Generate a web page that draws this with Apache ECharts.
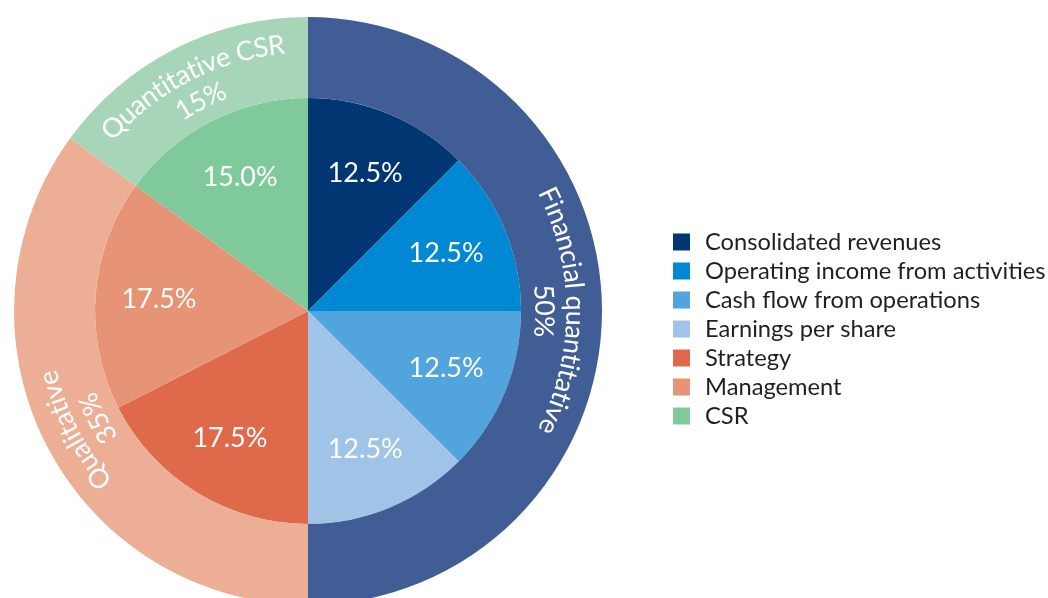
<!DOCTYPE html>
<html>
<head>
<meta charset="utf-8">
<script src="https://cdn.jsdelivr.net/npm/echarts@6/dist/echarts.min.js"></script>
<style>
    html, body {margin: 0; padding: 0; background: #fff;}
    #chart {width: 1048px; height: 598px;}
</style>
</head>
<body>
<div id="chart"></div>
<script>
// inner pie: the weighting of each criterion
const innerNames = ['Consolidated revenues', 'Operating income from activities', 'Cash flow from operations',
    'Earnings per share', 'Strategy', 'Management', 'CSR'];
const innerValues = [12.5, 12.5, 12.5, 12.5, 17.5, 17.5, 15];
const innerColors = ['#003671', '#0089d2', '#52a4dc', '#a0c4e8', '#de6a4b', '#e69475', '#80c99b'];

// outer ring: the three groups
const outerNames = ['Financial quantitative', 'Qualitative', 'Quantitative CSR'];
const outerValues = [50, 35, 15];
const outerColors = ['#405d96', '#ecaf95', '#a7d5b8'];

const FONT = 'Lato, "Noto Sans", sans-serif';
const CX = 308, CY = 311, R_IN = 213, R_OUT = 294;
const RING_FONT = 27;
const LINE_R = [267, 236]; // centre radius of the two label lines in the ring

let total = outerValues.reduce((x, y) => x + y, 0);
let acc = 0;
let outerMids = outerValues.map(v => {
    let m = (acc + v / 2) / total * 100;
    acc += v;
    return m;
});

let measureCtx = document.createElement('canvas').getContext('2d');
measureCtx.font = RING_FONT + 'px ' + FONT;

// one text element per character, bent round the ring (angle axis runs 0-100)
let renderRingLabel = (params, api) => {
    let i = params.dataIndex;
    let lines = [outerNames[i], outerValues[i] + '%'];
    let children = [];
    lines.forEach((line, li) => {
        let r = LINE_R[li];
        let widths = line.split('').map(ch => measureCtx.measureText(ch).width);
        let full = measureCtx.measureText(line).width;
        let scale = full / widths.reduce((x, y) => x + y, 0);
        let toPct = w => w * scale / r / (2 * Math.PI) * 100;
        let pos = outerMids[i] - toPct(full / scale) / 2;
        line.split('').forEach((ch, k) => {
            let a = pos + toPct(widths[k]) / 2;
            pos += toPct(widths[k]);
            let pt = api.coord([r, a]);
            children.push({
                type: 'text',
                x: pt[0],
                y: pt[1],
                rotation: -a / 100 * 2 * Math.PI,
                style: {
                    text: ch,
                    fill: '#fff',
                    fontFamily: FONT,
                    fontSize: RING_FONT,
                    align: 'center',
                    verticalAlign: 'middle'
                }
            });
        });
    });
    return {type: 'group', children: children};
};

let innerData = innerNames.map((name, i) => ({
    name: name, value: innerValues[i], itemStyle: {color: innerColors[i]}
}));
let outerData = outerNames.map((name, i) => ({
    name: name, value: outerValues[i], itemStyle: {color: outerColors[i]}
}));

let chart = echarts.init(document.getElementById('chart'));
chart.setOption({
    animation: false,
    textStyle: {fontFamily: FONT},
    polar: {center: [CX, CY], radius: R_OUT},
    angleAxis: {type: 'value', min: 0, max: 100, startAngle: 90, clockwise: true, show: false},
    radiusAxis: {type: 'value', min: 0, max: R_OUT, show: false},
    legend: {
        orient: 'vertical',
        left: 668,
        top: 225,
        icon: 'rect',
        itemWidth: 17,
        itemHeight: 17,
        itemGap: 5,
        selectedMode: false,
        data: innerNames,
        textStyle: {
            fontFamily: FONT,
            fontSize: 23.7,
            lineHeight: 24,
            color: '#231f20',
            padding: [0, 0, 0, 10]
        }
    },
    series: [
        {
            name: 'criteria',
            type: 'pie',
            center: [CX, CY],
            radius: [0, R_IN],
            silent: true,
            label: {show: false},
            labelLine: {show: false},
            data: innerData
        },
        {
            // transparent copy only to place the percentages further out
            name: 'criteriaLabels',
            type: 'pie',
            center: [CX, CY],
            radius: [80, R_IN],
            silent: true,
            itemStyle: {color: 'transparent'},
            label: {
                show: true,
                position: 'inside',
                color: '#fff',
                fontFamily: FONT,
                fontSize: 27,
                formatter: p => p.value.toFixed(1) + '%'
            },
            labelLine: {show: false},
            data: innerNames.map((name, i) => ({name: name, value: innerValues[i]}))
        },
        {
            name: 'groups',
            type: 'pie',
            center: [CX, CY],
            radius: [R_IN, R_OUT],
            silent: true,
            label: {show: false},
            labelLine: {show: false},
            data: outerData
        },
        {
            name: 'groupLabels',
            type: 'custom',
            coordinateSystem: 'polar',
            silent: true,
            z: 10,
            renderItem: renderRingLabel,
            data: outerMids.map(m => [LINE_R[0], m])
        }
    ]
});
</script>
</body>
</html>
